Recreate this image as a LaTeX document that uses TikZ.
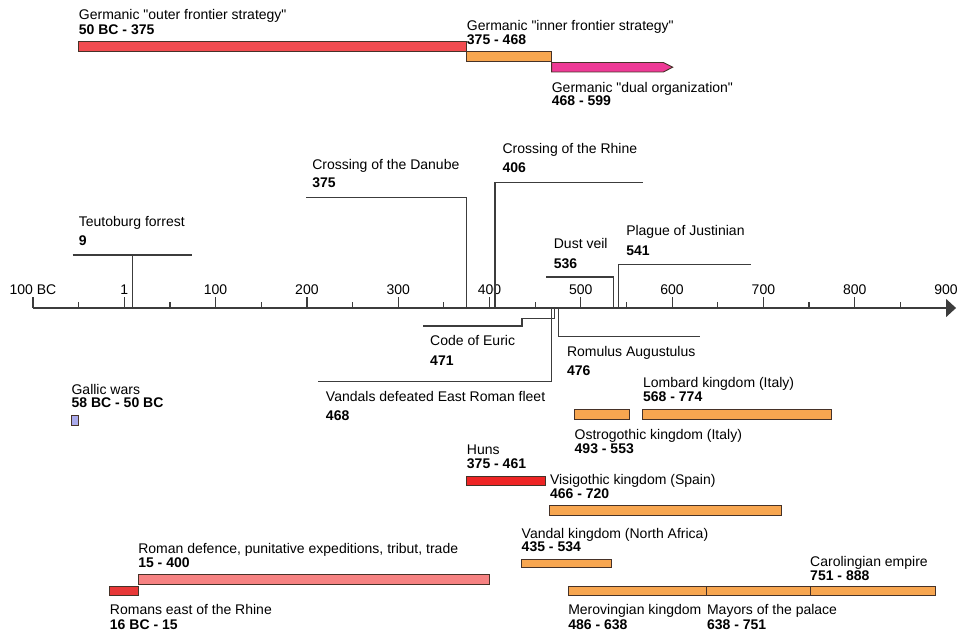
\documentclass[tikz,border=0pt]{standalone}
\usepackage{fontspec}
\setmainfont{Liberation Sans}
\usetikzlibrary{arrows.meta}

\definecolor{axisgray}{RGB}{60,60,60}
\definecolor{barline}{RGB}{70,50,40}
\definecolor{frontred}{RGB}{242,76,80}
\definecolor{kingorange}{RGB}{247,166,80}
\definecolor{dualpink}{RGB}{238,58,150}
\definecolor{gallicblue}{RGB}{170,170,235}
\definecolor{hunred}{RGB}{238,36,36}
\definecolor{romanred}{RGB}{232,56,56}
\definecolor{romanpink}{RGB}{246,130,130}

\tikzset{
  lbl/.style={anchor=base west, inner sep=0pt, font=\fontsize{10.5}{12}\selectfont},
  yrs/.style={lbl, font=\fontsize{10.5}{12}\selectfont\bfseries},
  axlbl/.style={anchor=base, inner sep=0pt, font=\fontsize{10.5}{12}\selectfont},
  bar/.style={draw=barline, line width=0.7pt},
  evline/.style={draw=axisgray, line width=0.9pt},
}

\begin{document}
\begin{tikzpicture}[x=0.68475pt, y=-0.75pt]
  % Frame of the picture
  \useasboundingbox (-136.14,0) rectangle (914.24,631);

  % Draw the time axis
  \coordinate (axstart) at (-100,308);
  \coordinate (axend) at (911,308);
  \draw[evline, -{Triangle[length=7.5pt,width=13.5pt]}] (axstart) -- (axend);
  \foreach \t in {-100,0,...,800}
    \draw[evline] (\t,297) -- (\t,308);
  \foreach \t in {-50,50,...,850}
    \draw[evline] (\t,302) -- (\t,308);
  \foreach \t/\s in {-100/100 BC,0/1,100/100,200/200,300/300,400/400,
                     500/500,600/600,700/700,800/800,900/900}
    \node[axlbl] (ax\t) at (\t,294) {\s};

  % Germanic frontier strategies
  \draw[bar, fill=frontred] (-50,41.7) rectangle (375,51.7);
  \draw[bar, fill=kingorange] (375,51.7) rectangle (468,61.7);
  \draw[bar, fill=dualpink] (468,62.5) -- (590.5,62.5) -- (600.6,67.2)
    -- (590.5,72) -- (468,72) -- cycle;
  \node[lbl] (outer) at (-50,20) {Germanic \textquotedbl outer frontier strategy\textquotedbl};
  \node[yrs] (outery) at (-50,35) {50 BC - 375};
  \node[lbl] (inner) at (375,31) {Germanic \textquotedbl inner frontier strategy\textquotedbl};
  \node[yrs] (innery) at (375,45) {375 - 468};
  \node[lbl] (dual) at (468,93) {Germanic \textquotedbl dual organization\textquotedbl};
  \node[yrs] (dualy) at (468,106) {468 - 599};

  % Events above the axis
  \coordinate (teuto) at (9,308);
  \draw[evline] (teuto) -- (9,255);
  \draw[evline] (-56.5,255) -- (74.3,255);
  \node[lbl] (teutot) at (-50,226) {Teutoburg forrest};
  \node[yrs] (teutoy) at (-50,245) {9};

  \coordinate (danube) at (375,308);
  \draw[evline] (danube) |- (198.7,197.7);
  \node[lbl] (danubet) at (205.6,169) {Crossing of the Danube};
  \node[yrs] (danubey) at (205.6,187.7) {375};

  \coordinate (rhine) at (406,308);
  \draw[evline] (rhine) |- (568,182.3);
  \node[lbl] (rhinet) at (414,153.3) {Crossing of the Rhine};
  \node[yrs] (rhiney) at (414,172.7) {406};

  \coordinate (dust) at (536,308);
  \draw[evline] (dust) |- (461.9,277);
  \node[lbl] (dustt) at (470.2,248) {Dust veil};
  \node[yrs] (dusty) at (470.2,268) {536};

  \coordinate (plague) at (541,308);
  \draw[evline] (plague) |- (686.4,264.3);
  \node[lbl] (plaguet) at (549.5,235.7) {Plague of Justinian};
  \node[yrs] (plaguey) at (549.5,255.7) {541};

  % Events below the axis
  \coordinate (euric) at (471,308);
  \draw[evline] (euric) -- (471,318.5) -- (435.6,318.5) -- (435.6,326) -- (327.5,326);
  \node[lbl] (eurict) at (334.8,345.7) {Code of Euric};
  \node[yrs] (euricy) at (334.8,365) {471};

  \coordinate (romulus) at (476,308);
  \draw[evline] (romulus) |- (630.4,336.7);
  \node[lbl] (romulust) at (484.6,356) {Romulus Augustulus};
  \node[yrs] (romulusy) at (484.6,375.7) {476};

  \coordinate (vandals) at (468,308);
  \draw[evline] (vandals) |- (212.5,381.7);
  \node[lbl] (vandalst) at (220.6,401.7) {Vandals defeated East Roman fleet};
  \node[yrs] (vandalsy) at (220.6,420.7) {468};

  % Periods
  \draw[bar, fill=gallicblue] (-58,415.7) rectangle (-50,425);
  \node[lbl] (gallic) at (-58,394) {Gallic wars};
  \node[yrs] (gallicy) at (-58,407.7) {58 BC - 50 BC};

  \draw[bar, fill=kingorange] (568,409.3) rectangle (774,419);
  \node[lbl] (lombard) at (568,387.7) {Lombard kingdom (Italy)};
  \node[yrs] (lombardy) at (568,401.7) {568 - 774};

  \draw[bar, fill=kingorange] (493,409.3) rectangle (553,419);
  \node[lbl] (ostro) at (493,439) {Ostrogothic kingdom (Italy)};
  \node[yrs] (ostroy) at (493,453.3) {493 - 553};

  \draw[bar, fill=hunred] (375,476) rectangle (461,485);
  \node[lbl] (huns) at (375,454) {Huns};
  \node[yrs] (hunsy) at (375,468.3) {375 - 461};

  \draw[bar, fill=kingorange] (466,505) rectangle (720,515);
  \node[lbl] (visi) at (466,484) {Visigothic kingdom (Spain)};
  \node[yrs] (visiy) at (466,498.3) {466 - 720};

  \draw[bar, fill=kingorange] (435,559) rectangle (534,567.7);
  \node[lbl] (vandalk) at (435,538.3) {Vandal kingdom (North Africa)};
  \node[yrs] (vandalky) at (435,551.7) {435 - 534};

  \draw[bar, fill=kingorange] (486,586.7) rectangle (638,595.5);
  \draw[bar, fill=kingorange] (638,586.7) rectangle (751,595.5);
  \draw[bar, fill=kingorange] (751,586.7) rectangle (888,595.5);
  \node[lbl] (carol) at (751,566.7) {Carolingian empire};
  \node[yrs] (caroly) at (751,580) {751 - 888};
  \node[lbl] (mero) at (486,614.5) {Merovingian kingdom};
  \node[yrs] (meroy) at (486,629) {486 - 638};
  \node[lbl] (mayor) at (638,614.5) {Mayors of the palace};
  \node[yrs] (mayory) at (638,629) {638 - 751};

  \draw[bar, fill=romanpink] (15,574.3) rectangle (400,584);
  \node[lbl] (defence) at (15,553.3) {Roman defence, punitative expeditions, tribut, trade};
  \node[yrs] (defencey) at (15,567.7) {15 - 400};

  \draw[bar, fill=romanred] (-16,586.7) rectangle (15,595.3);
  \node[lbl] (east) at (-16,614.5) {Romans east of the Rhine};
  \node[yrs] (easty) at (-16,629) {16 BC - 15};
\end{tikzpicture}
\end{document}
